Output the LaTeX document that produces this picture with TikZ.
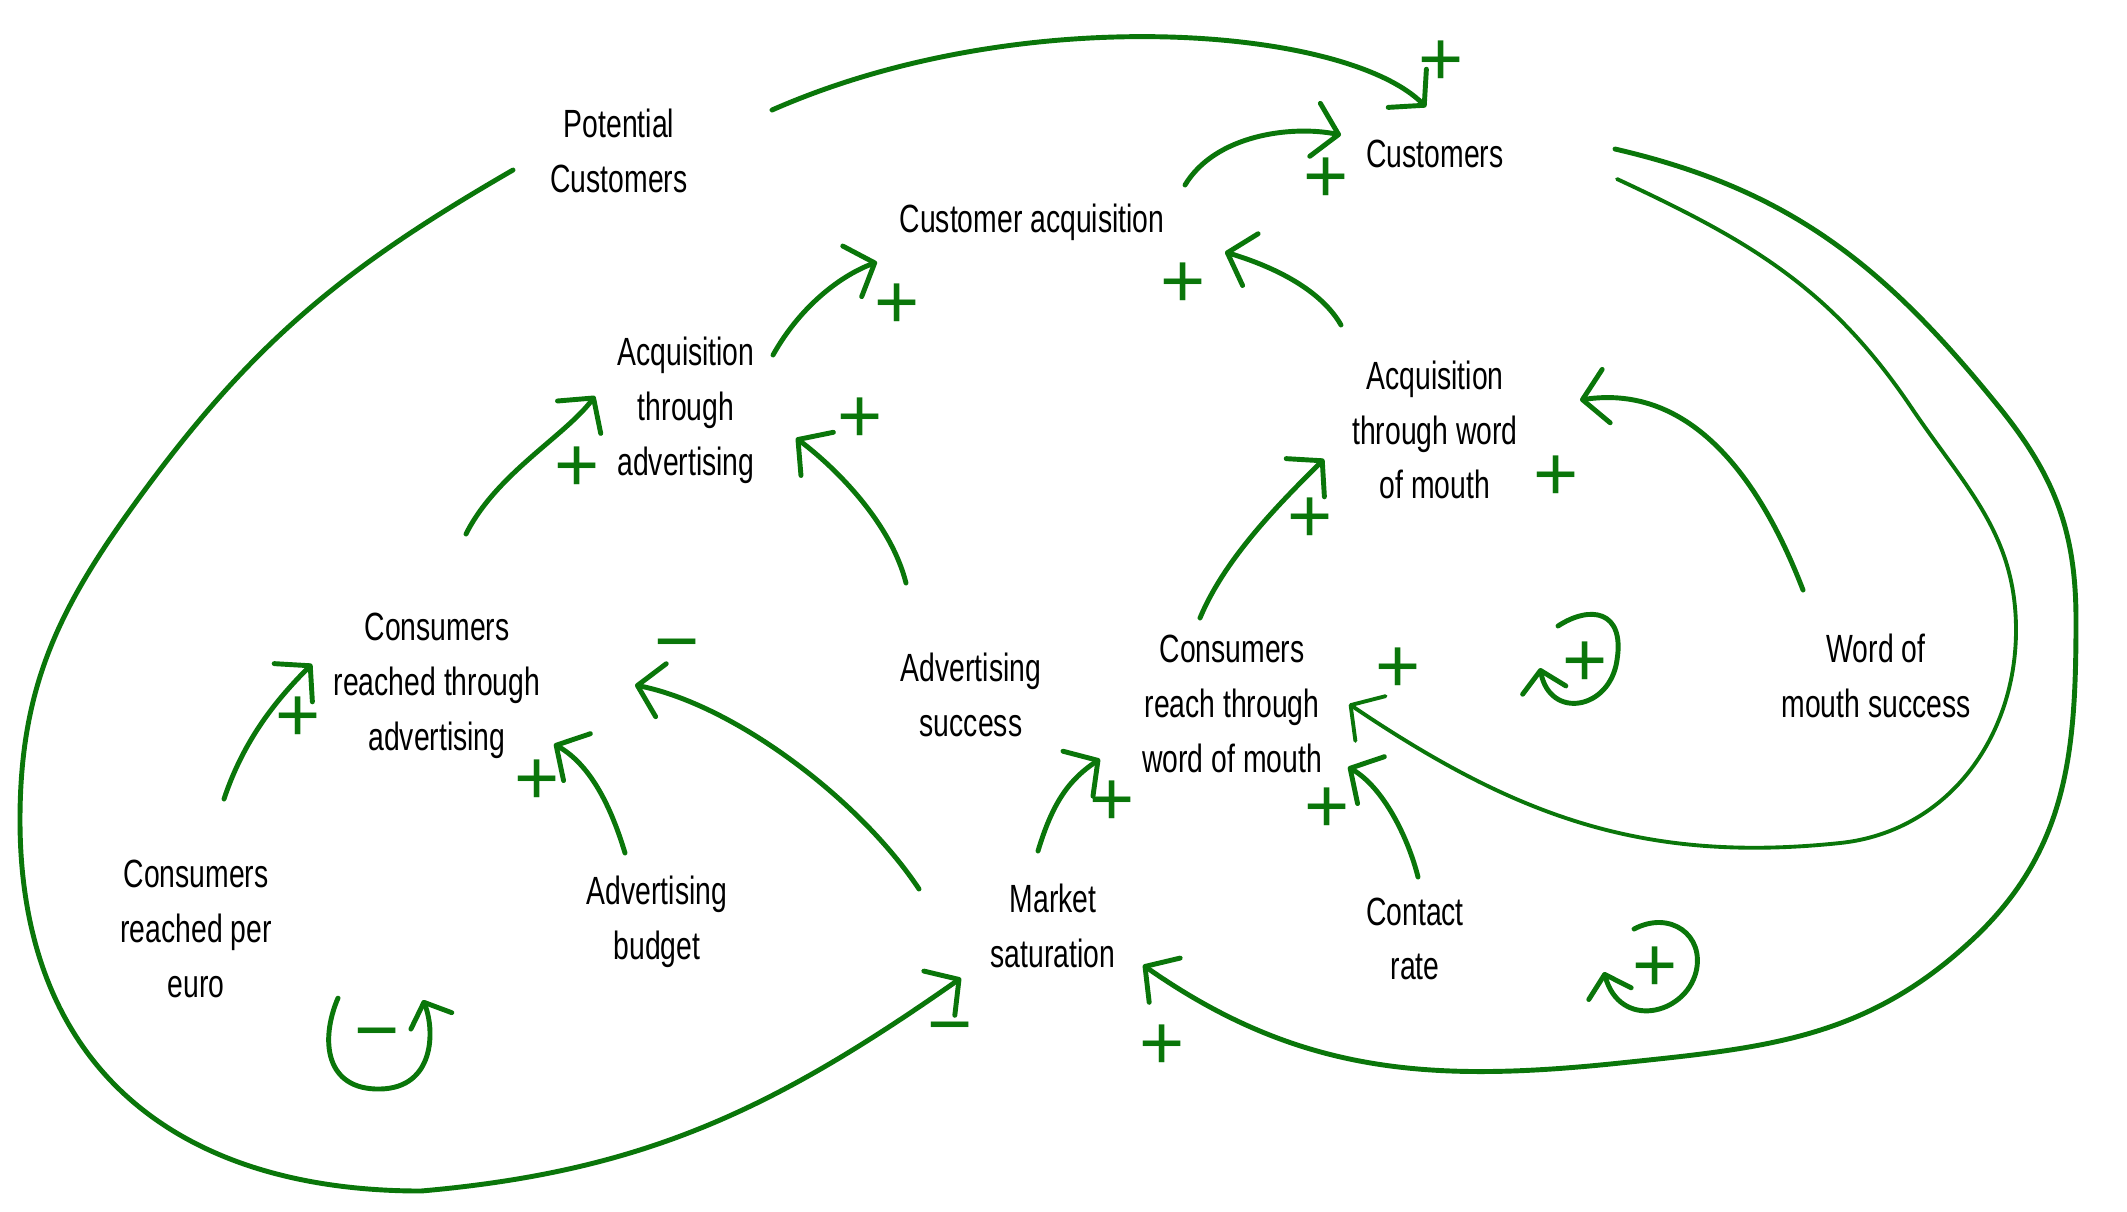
\documentclass[tikz,border=0pt]{standalone}
\usepackage{fontspec}
\setmainfont[FakeStretch=0.72]{Liberation Sans}
\newfontfamily\signfont{Liberation Sans}
\usetikzlibrary{arrows.meta,calc}
\definecolor{sketch}{RGB}{10,118,10}
\tikzset{
  var/.style={align=center,font=\fontsize{11.2}{15.6}\selectfont,inner sep=1pt},
  link/.style={draw=sketch,line width=1.4pt,line cap=round,line join=round,
    -{Straight Barb[length=2.4mm,width=5.4mm,round]}},
  thinlink/.style={link,line width=1.1pt},
  sign/.style={text=sketch,font=\signfont\fontsize{22}{22}\selectfont,inner sep=0pt},
  looparc/.style={link,-{Straight Barb[length=2mm,width=4.4mm,round]}}
}

\begin{document}
\begin{tikzpicture}
\useasboundingbox (0,0) rectangle (21.27,-12.11);

\node[var] (pc) at (6.19,-1.51) {Potential\\Customers};
\node[var] (cust) at (14.35,-1.54) {Customers};
\node[var] (cacq) at (10.32,-2.22) {Customer acquisition};
\node[var] (aadv) at (6.86,-4.10) {Acquisition\\through\\advertising};
\node[var] (awom) at (14.35,-4.30) {Acquisition\\through word\\of mouth};
\node[var] (crta) at (4.37,-6.86) {Consumers\\reached through\\advertising};
\node[var] (asucc) at (9.71,-6.95) {Advertising\\success};
\node[var] (crwom) at (12.32,-7.04) {Consumers\\reach through\\word of mouth};
\node[var] (wsucc) at (18.76,-6.76) {Word of\\mouth success};
\node[var] (cpe) at (1.96,-9.29) {Consumers\\reached per\\euro};
\node[var] (abud) at (6.57,-9.22) {Advertising\\budget};
\node[var] (msat) at (10.53,-9.26) {Market\\saturation};
\node[var] (crate) at (14.15,-9.39) {Contact\\rate};

\draw[link] ($(pc)+(1.53,0.41)$) .. controls +(2.5,1.1) and +(-0.8,0.8) .. ($(cust)+(-0.09,0.47)$);
\draw[link] ($(cacq)+(1.53,0.37)$) .. controls +(0.3,0.5) and +(-0.5,0.1) .. ($(cust)+(-0.94,0.19)$);
\draw[link] ($(aadv)+(0.87,0.55)$) .. controls +(0.25,0.45) and +(-0.4,-0.15) .. ($(cacq)+(-1.55,-0.40)$);
\draw[link] ($(awom)+(-0.94,1.05)$) .. controls +(-0.2,0.35) and +(0.5,-0.15) .. ($(cacq)+(1.93,-0.30)$);
\draw[link] ($(crta)+(0.29,1.52)$) .. controls +(0.3,0.6) and +(-0.3,-0.4) .. ($(aadv)+(-0.91,0.14)$);
\draw[link] ($(asucc)+(-0.65,1.12)$) .. controls +(-0.15,0.6) and +(0.4,-0.3) .. ($(aadv)+(1.10,-0.28)$);
\draw[link] ($(crwom)+(-0.32,0.86)$) .. controls +(0.25,0.6) and +(-0.45,-0.45) .. ($(awom)+(-1.11,-0.29)$);
\draw[link] ($(wsucc)+(-0.73,0.86)$) .. controls +(-0.5,1.3) and +(1.0,0.15) .. ($(awom)+(1.45,0.30)$);
\draw[link] ($(cpe)+(0.28,1.30)$) .. controls +(0.2,0.6) and +(-0.35,-0.35) .. ($(crta)+(-1.25,0.22)$);
\draw[link] ($(abud)+(-0.32,0.69)$) .. controls +(-0.15,0.5) and +(0.35,-0.2) .. ($(crta)+(1.17,-0.58)$);
\draw[link] ($(msat)+(-1.34,0.37)$) .. controls +(-0.59,0.89) and +(1.0,-0.2) .. ($(crta)+(1.98,0.01)$);
\draw[link] ($(msat)+(-0.15,0.75)$) .. controls +(0.15,0.5) and +(-0.3,-0.2) .. ($(crwom)+(-1.32,-0.55)$);
\draw[link] ($(crate)+(0.03,0.62)$) .. controls +(-0.1,0.4) and +(0.35,-0.2) .. ($(crwom)+(1.16,-0.63)$);
\draw[thinlink] ($(cust)+(1.82,-0.25)$) to[out=-25,in=124] (19.11,-4.07) to[out=-56,in=90] (20.16,-6.30)
  to[out=-90,in=6] (18.40,-8.43) to[out=186,in=-34] ($(crwom)+(1.17,0)$);
\draw[link] ($(cust)+(1.80,0.05)$) to[out=-13,in=129] (19.99,-4.07) to[out=-51,in=90] (20.76,-6.20)
  to[out=-90,in=43] (19.72,-9.40) to[out=-137,in=6] (16.20,-10.63) to[out=186,in=-35] ($(msat)+(0.90,-0.39)$);
\draw[link] ($(pc)+(-1.06,-0.19)$) to[out=210,in=54] (1.36,-5.02) to[out=-126,in=90] (0.20,-8.2)
  to[out=-90,in=180,looseness=1.15] (4.21,-11.91) to[out=5,in=215] ($(msat)+(-0.92,-0.52)$);

\node[sign] (s1) at (14.41,-0.63) {+};
\node[sign] (s2) at (13.26,-1.80) {+};
\node[sign] (s3) at (8.97,-3.06) {+};
\node[sign] (s4) at (11.83,-2.85) {+};
\node[sign] (s5) at (5.77,-4.69) {+};
\node[sign] (s6) at (8.60,-4.20) {+};
\node[sign] (s7) at (13.10,-5.20) {+};
\node[sign] (s8) at (15.56,-4.78) {+};
\node[sign] (s9) at (2.98,-7.19) {+};
\node[sign] (s10) at (5.37,-7.82) {+};
\node[sign] (s11) at (6.77,-6.53) {−};
\node[sign] (s12) at (11.12,-8.03) {+};
\node[sign] (s13) at (13.27,-8.10) {+};
\node[sign] (s14) at (13.98,-6.70) {+};
\node[sign] (s15) at (11.62,-10.47) {+};
\node[sign] (s16) at (9.50,-10.36) {−};

\draw[looparc] (3.38,-9.98) .. controls (3.20,-10.4) and (3.25,-10.9) .. (3.80,-10.89)
  .. controls (4.35,-10.88) and (4.35,-10.3) .. (4.23,-10.00);
\node[sign] (r1) at (3.77,-10.42) {−};
\draw[looparc] (15.58,-6.26) .. controls (15.9,-6.05) and (16.25,-6.1) .. (16.17,-6.60)
  .. controls (16.1,-7.1) and (15.5,-7.2) .. (15.40,-6.68);
\node[sign] (r2) at (15.85,-6.64) {+};
\draw[looparc] (16.34,-9.29) .. controls (16.7,-9.1) and (17.05,-9.35) .. (16.96,-9.72)
  .. controls (16.85,-10.15) and (16.2,-10.3) .. (16.04,-9.72);
\node[sign] (r3) at (16.55,-9.69) {+};
\end{tikzpicture}
\end{document}
